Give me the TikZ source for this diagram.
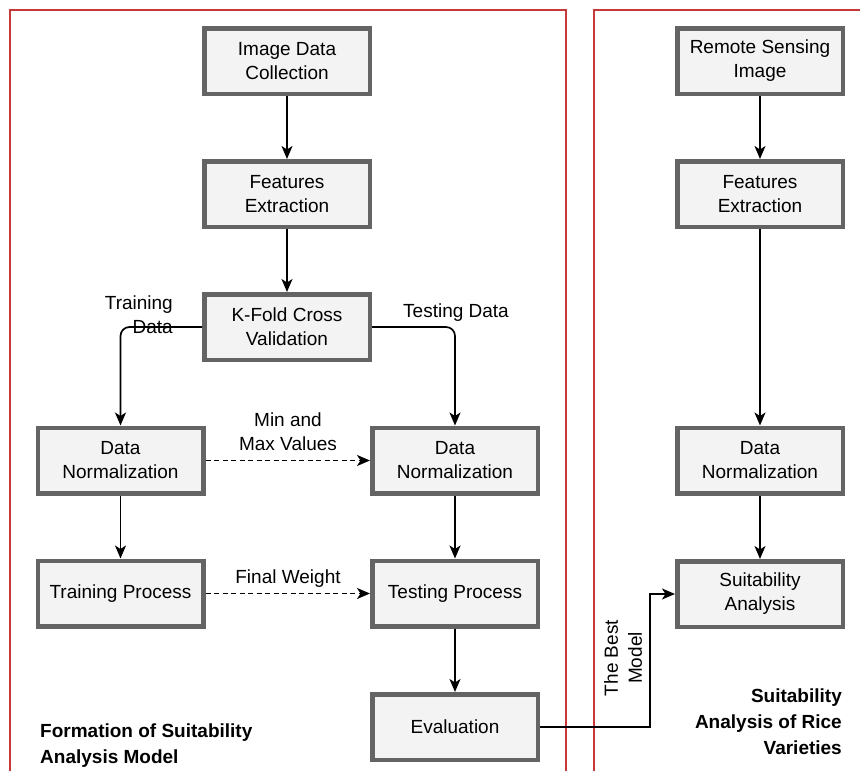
\documentclass[tikz,border=0pt]{standalone}
\usepackage{fontspec}
\setmainfont{Liberation Sans}
\usetikzlibrary{arrows.meta}
\definecolor{boxfill}{HTML}{F3F3F3}
\definecolor{boxline}{HTML}{646464}
\definecolor{framered}{HTML}{C83838}
\tikzset{
  procbox/.style={draw=boxline, line width=4.5pt, fill=boxfill, minimum width=165.5pt, minimum height=65.5pt,
    inner sep=0pt, align=center, font=\fontsize{19}{24}\selectfont},
  conn/.style={draw=black, line width=1.7pt, -{Stealth[length=13pt,width=11pt,inset=3.5pt]}},
  dconn/.style={conn, dashed, dash pattern=on 5pt off 3.5pt},
  lbl/.style={align=center, inner sep=0pt, font=\fontsize{19}{24}\selectfont},
  title/.style={inner sep=0pt, font=\bfseries\fontsize{19}{26}\selectfont},
  frame/.style={draw=framered, line width=1.3pt}
}
\begin{document}
\begin{tikzpicture}[x=1pt, y=-1pt]
\useasboundingbox (0,0) rectangle (860,771);
% frames
\draw[frame] (10,771) -- (10,10) -- (566,10) -- (566,771);
\draw[frame] (594,771) -- (594,10) -- (860,10);
% left column nodes
\node[procbox] (idc) at (287,61) {Image Data\\Collection};
\node[procbox] (fe1) at (287,194) {Features\\Extraction};
\node[procbox] (kf) at (287,327) {K-Fold Cross\\Validation};
\node[procbox] (dn1) at (120.5,460.5) {Data\\Normalization};
\node[procbox] (dn2) at (455,460.5) {Data\\Normalization};
\node[procbox] (tp1) at (120.5,593.5) {Training Process};
\node[procbox] (tp2) at (455,593.5) {Testing Process};
\node[procbox] (ev) at (455,727) {Evaluation};
% right column nodes
\node[procbox] (rs) at (760,61) {Remote Sensing\\Image};
\node[procbox] (fe2) at (760,194) {Features\\Extraction};
\node[procbox] (dn3) at (760,460.5) {Data\\Normalization};
\node[procbox] (sa) at (760,594) {Suitability\\Analysis};
% connectors left
\draw[conn] (idc) -- (fe1);
\draw[conn] (fe1) -- (kf);
\draw[conn, rounded corners=9pt] (kf.west) -| (dn1.north);
\draw[conn, rounded corners=9pt] (kf.east) -| (dn2.north);
\draw[dconn] (dn1) -- (dn2);
\draw[conn] (dn1) -- (tp1);
\draw[conn] (dn2) -- (tp2);
\draw[dconn] (tp1) -- (tp2);
\draw[conn] (tp2) -- (ev);
% connectors right
\draw[conn] (rs) -- (fe2);
\draw[conn] (fe2) -- (dn3);
\draw[conn] (dn3) -- (sa);
\coordinate (bend) at (650,727);
\draw[conn] (ev.east) -- (bend) |- (sa.west);
% labels
\node[lbl, align=right, anchor=east] (ltrain) at (173,315) {Training\\Data};
\node[lbl] (ltest) at (456,313) {Testing Data};
\node[lbl] (lminmax) at (288,432) {Min and\\Max Values};
\node[lbl] (lweight) at (288,579) {Final Weight};
\node[lbl, rotate=90] (lbest) at (623,658) {The Best\\Model};
\node[title, align=left, anchor=west] (tleft) at (40,746) {Formation of Suitability\\Analysis Model};
\node[title, align=right, anchor=east] (tright) at (842,722) {Suitability\\Analysis of Rice\\Varieties};
\end{tikzpicture}
\end{document}
